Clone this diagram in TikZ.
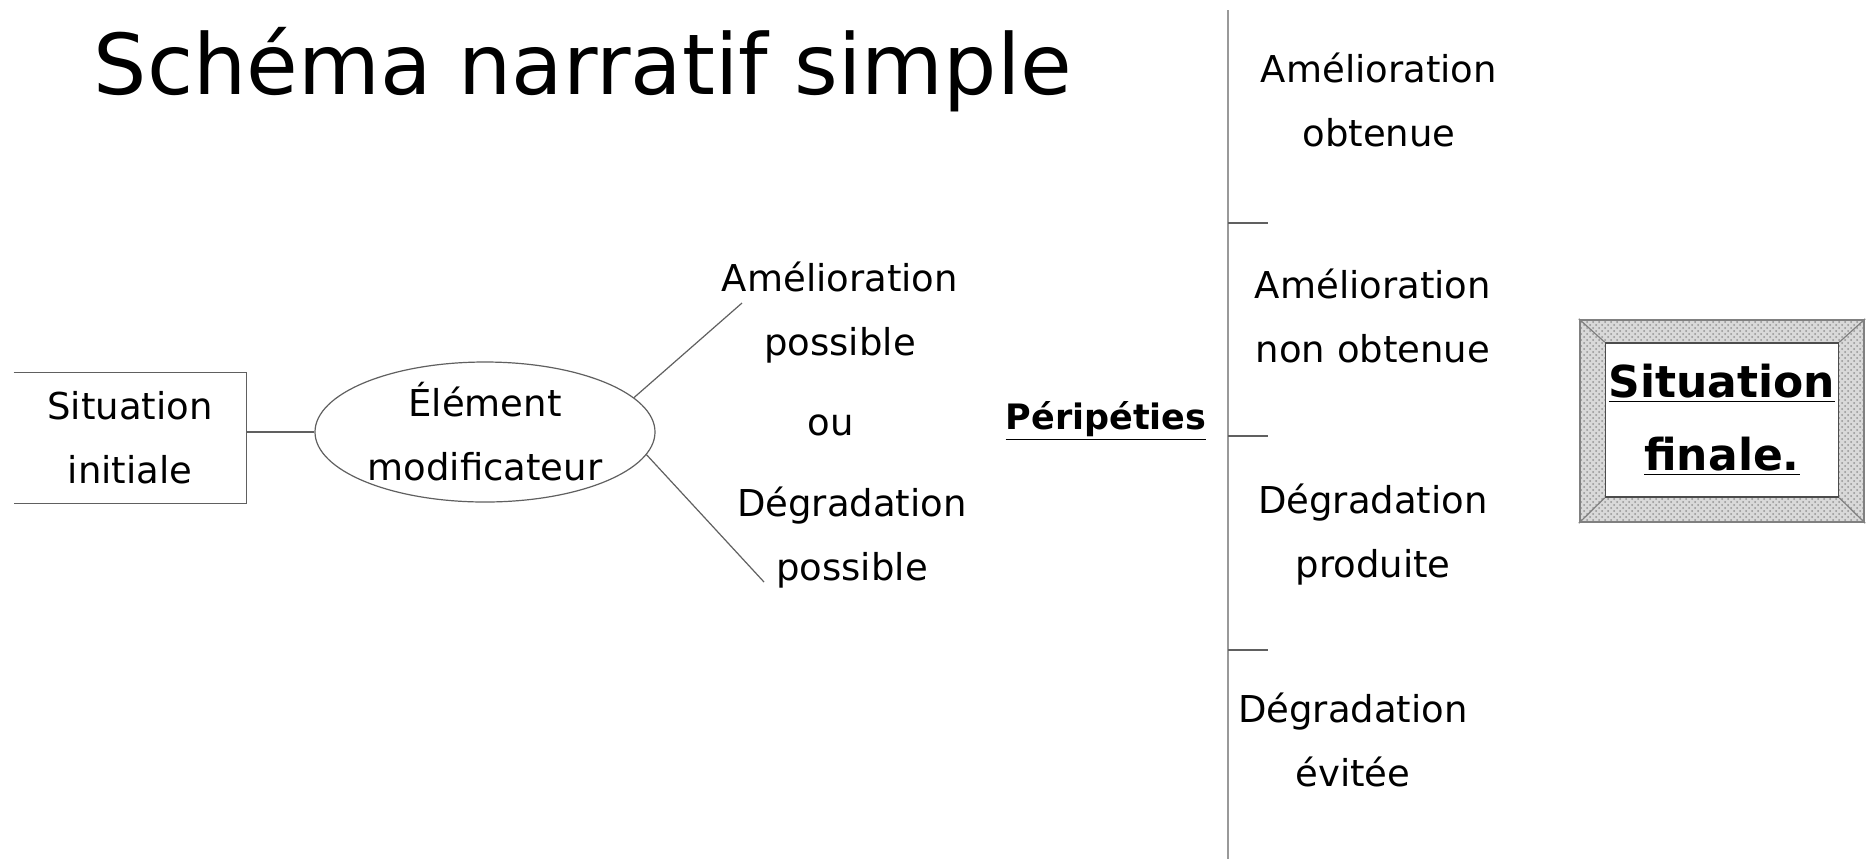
\documentclass[tikz,border=0pt]{standalone}
\usepackage{fontspec}
\setmainfont{DejaVu Sans}
\usetikzlibrary{shapes,positioning,patterns}

\tikzset{
    lbl/.style={font=\fontsize{18.5}{32}\selectfont, align=center, inner sep=0pt},
    thinline/.style={draw=gray!75!black, line width=0.6pt},
}

\begin{document}
\begin{tikzpicture}[x=0.5pt,y=-0.5pt]
        \useasboundingbox[fill=white] (0,0) rectangle (1870,859);
        \node[font=\fontsize{42}{46}\selectfont, inner sep=0pt] (title) at (583,70) {Schéma narratif simple};
        % left part
        \node[lbl, minimum width=116pt, minimum height=65pt] (initiale) at (130,438) {Situation\\initiale};
        \draw[thinline] (initiale.north west) -- (initiale.north east) -- (initiale.south east) -- (initiale.south west);
        \node[lbl, ellipse, thinline, minimum width=170pt, minimum height=70pt] (element) at (485,432) {Élément\\modificateur};
        \draw[thinline] (initiale.east |- element.west) -- (element.west);
        \node[lbl] (ameliopos) at (840,313) {Amélioration\\possible};
        \node[lbl] (ou) at (831,425) {ou};
        \node[lbl] (degradpos) at (852,538) {Dégradation\\possible};
        \coordinate (hautfin) at (742,303);
        \coordinate (basfin) at (764,582);
        \draw[thinline] (element.13) -- (hautfin);
        \draw[thinline] (element.-8) -- (basfin);
        \node[font=\bfseries\fontsize{17.5}{20}\selectfont, inner sep=0pt] (peripeties) at (1106,421) {\underline{Péripéties}};
        % right part
        \coordinate (axehaut) at (1228,10);
        \coordinate (axebas) at (1228,859);
        \draw[gray!80, line width=1.4pt] (axehaut) -- (axebas);
        \foreach \y in {223,436,650}
            \draw[thinline] (1228,\y) -- (1268,\y);
        \node[lbl] (obtenue) at (1379,100) {Amélioration\\obtenue};
        \node[lbl] (nonobtenue) at (1373,316) {Amélioration\\non obtenue};
        \node[lbl] (produite) at (1373,535) {Dégradation\\produite};
        \node[lbl] (evitee) at (1353,740) {Dégradation\\évitée};
        % final box
        \node[draw=gray, line width=1.2pt, preaction={fill=gray!30}, pattern=crosshatch dots, pattern color=gray!85, minimum width=142pt, minimum height=101pt] (cadre) at (1722,421) {};
        \node[draw=gray!60!black, fill=white, line width=0.8pt, minimum width=116.5pt, minimum height=77pt, align=center, font=\bfseries\fontsize{22}{36.5}\selectfont, inner sep=0pt] (finale) at (1722,420) {\underline{Situation}\\\underline{finale.}};
        \foreach \c in {north west,north east,south west,south east}
            \draw[gray, line width=0.6pt] (cadre.\c) -- (finale.\c);
    \end{tikzpicture}
\end{document}
